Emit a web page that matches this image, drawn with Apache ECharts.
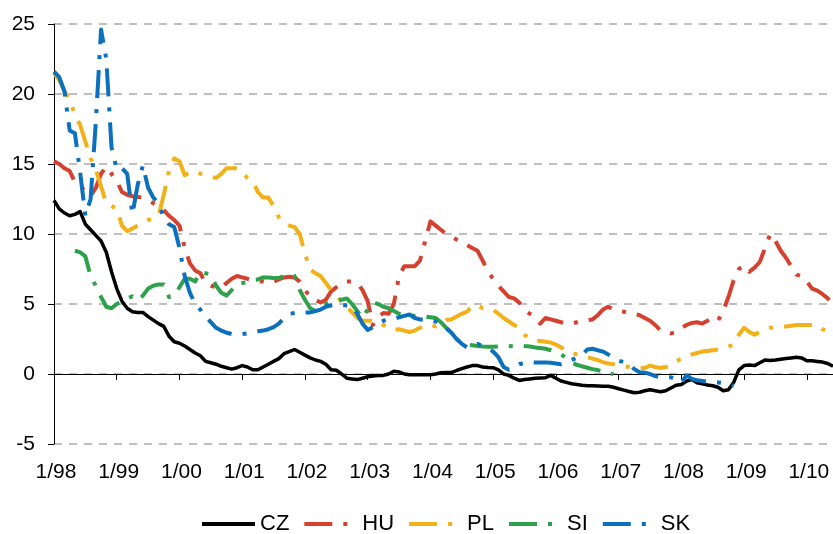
<!DOCTYPE html>
<html>
<head>
<meta charset="utf-8">
<script src="https://cdn.jsdelivr.net/npm/echarts@6/dist/echarts.min.js"></script>
<style>
html,body{margin:0;padding:0;background:#fff;}
#chart{width:833px;height:534px;}
</style>
</head>
<body>
<div id="chart"></div>
<script>
// Monthly categories from 1/98 to 6/10
var startYear = 1998, nMonths = 150;
var categories = [];
for (var k = 0; k < nMonths; k++) {
  var m = k % 12 + 1, y = (startYear + Math.floor(k / 12)) % 100;
  categories.push(m + '/' + (y < 10 ? '0' + y : '' + y));
}
var yTicks = [-5, 0, 5, 10, 15, 20, 25];

var CZ = [12.4,11.8,11.5,11.3,11.4,11.6,10.7,10.3,9.9,9.5,
 8.7,7.3,6.1,5.2,4.7,4.45,4.4,4.4,4.1,3.85,
 3.6,3.4,2.7,2.3,2.2,2.0,1.75,1.5,1.3,0.9,
 0.8,0.7,0.55,0.45,0.35,0.45,0.6,0.5,0.3,0.3,
 0.5,0.7,0.9,1.1,1.45,1.6,1.75,1.55,1.35,1.15,
 1.0,0.9,0.7,0.3,0.27,0.0,-0.3,-0.35,-0.4,-0.3,
 -0.2,-0.15,-0.1,-0.1,0.0,0.2,0.15,0.0,-0.05,-0.05,
 -0.05,-0.05,-0.05,0.0,0.09,0.1,0.1,0.25,0.38,0.5,
 0.6,0.6,0.5,0.47,0.45,0.3,0.0,-0.1,-0.3,-0.46,
 -0.4,-0.35,-0.3,-0.28,-0.27,-0.1,-0.3,-0.5,-0.6,-0.7,
 -0.75,-0.8,-0.84,-0.84,-0.85,-0.87,-0.88,-0.95,-1.05,-1.15,
 -1.25,-1.34,-1.3,-1.2,-1.12,-1.2,-1.27,-1.2,-1.0,-0.8,
 -0.75,-0.5,-0.4,-0.62,-0.7,-0.78,-0.84,-0.95,-1.2,-1.12,
 -0.6,0.3,0.6,0.65,0.6,0.8,1.0,0.97,1.0,1.05,
 1.1,1.15,1.2,1.15,0.95,0.95,0.9,0.85,0.75,0.55];

var HU = [15.2,15.0,14.7,14.5,13.7,13.5,13.0,12.7,13.3,14.3,
 14.8,14.3,13.8,13.0,12.8,12.7,12.65,12.6,12.4,12.2,
 12.0,11.7,11.3,11.0,10.6,9.0,7.9,7.4,7.2,6.5,
 6.3,6.2,6.15,6.5,6.8,7.0,6.9,6.8,6.7,6.65,
 6.6,6.5,6.6,6.75,6.9,6.95,6.9,6.6,6.0,5.5,
 5.3,5.1,5.3,5.9,6.2,6.5,6.6,6.6,6.5,6.0,
 5.2,3.5,4.1,4.35,4.3,5.0,7.0,7.7,7.7,7.7,
 8.1,9.5,10.9,10.6,10.3,10.0,9.8,9.6,9.4,9.2,
 9.0,8.8,8.1,7.3,6.8,6.3,5.9,5.5,5.4,5.1,
 4.6,4.3,4.1,3.6,4.0,3.9,3.8,3.7,3.6,3.6,
 3.7,3.8,3.85,3.9,4.2,4.6,4.8,4.6,4.5,4.45,
 4.4,4.3,4.2,4.0,3.8,3.5,3.1,3.0,2.9,3.0,
 3.3,3.5,3.65,3.7,3.6,3.8,4.0,3.8,4.5,5.5,
 6.7,7.5,7.75,7.3,7.6,8.0,9.0,10.0,9.5,8.8,
 8.3,7.7,7.1,7.0,6.6,6.1,5.95,5.7,5.4,4.9];

var PL = [21.5,21.0,20.2,19.6,18.5,17.8,16.6,15.4,14.6,13.4,
 12.2,12.0,11.8,10.6,10.2,10.4,10.6,10.8,11.0,11.1,
 11.3,12.8,14.5,15.4,15.2,14.2,14.4,14.5,14.3,14.2,
 14.1,14.0,14.3,14.7,14.7,14.7,14.4,14.0,13.75,13.0,
 12.6,12.6,12.0,11.2,10.8,10.6,10.5,10.0,8.6,7.45,
 7.2,7.0,6.5,6.0,5.6,5.2,4.8,4.4,4.0,3.8,
 3.8,3.8,3.75,3.5,3.25,3.15,3.2,3.1,3.0,3.1,
 3.3,3.5,3.5,3.4,3.6,3.85,3.9,4.1,4.3,4.45,
 4.9,4.85,4.7,4.65,4.6,4.3,4.0,3.75,3.5,3.3,
 2.8,2.5,2.4,2.35,2.3,2.25,2.1,1.9,1.65,1.5,
 1.4,1.3,1.2,1.1,1.0,0.85,0.75,0.7,0.6,0.55,
 0.5,0.45,0.43,0.43,0.6,0.5,0.43,0.5,0.6,0.9,
 1.1,1.3,1.4,1.5,1.6,1.65,1.7,1.75,1.8,1.95,
 2.1,2.8,3.3,3.0,2.8,3.0,3.2,3.3,3.35,3.4,
 3.4,3.45,3.5,3.5,3.5,3.5,3.5,3.2,3.05,3.3];

var SI = [null,null,null,null,8.8,8.7,8.4,7.0,6.3,5.5,
 4.8,4.7,5.0,5.2,5.4,5.55,5.25,5.6,6.1,6.3,
 6.4,6.4,5.5,5.6,6.2,6.8,6.8,6.6,7.3,7.2,
 7.1,6.3,5.8,5.6,6.0,6.45,6.5,6.55,6.7,6.75,
 6.9,6.9,6.85,6.85,7.0,7.1,7.0,6.0,5.3,4.7,
 4.5,4.7,5.0,5.1,5.2,5.3,5.4,5.0,4.5,4.0,
 4.6,5.1,5.0,4.8,4.7,4.5,4.3,4.25,4.2,4.15,
 4.15,4.1,4.05,4.0,3.7,3.3,2.9,2.5,2.2,2.1,
 2.05,2.0,1.97,1.95,1.95,1.97,1.97,1.98,2.0,2.05,
 2.0,1.97,1.9,1.85,1.8,1.7,1.55,1.4,1.15,0.8,
 0.66,0.55,0.45,0.35,0.28,0.15,0.08,0.0,null,null,
 null,null,null,null,null,null,null,null,null,null,
 null,null,null,null,null,null,null,null,null,null,
 null,null,null,null,null,null,null,null,null,null,
 null,null,null,null,null,null,null,null,null,null];

var SK = [21.6,21.2,20.2,17.4,17.2,14.4,11.3,12.5,18.0,24.6,
 22.5,16.2,14.6,14.7,14.3,11.4,13.5,14.9,13.3,12.6,
 12.2,11.2,10.7,10.5,9.0,7.0,5.8,5.0,4.6,4.1,
 3.7,3.3,3.1,2.95,2.85,2.85,2.85,2.9,3.0,3.05,
 3.1,3.2,3.35,3.6,4.0,4.3,4.35,4.4,4.4,4.4,
 4.5,4.6,4.8,4.9,4.95,4.95,4.9,4.85,4.3,3.6,
 3.15,3.35,3.6,3.8,3.9,3.95,4.05,4.15,4.25,4.0,
 3.9,3.9,3.85,3.75,3.6,3.3,2.95,2.5,2.15,1.9,
 2.0,2.15,2.0,1.8,1.6,1.2,0.5,0.3,0.5,0.7,
 0.8,0.83,0.83,0.83,0.83,0.8,0.75,0.7,0.8,1.0,
 1.15,1.35,1.75,1.8,1.7,1.6,1.4,1.15,0.95,0.85,
 0.7,0.35,0.12,0.1,0.0,-0.15,-0.24,-0.24,-0.24,-0.35,
 -0.6,-0.1,-0.35,-0.45,-0.5,-0.55,-0.58,-0.6,-0.65,-0.75,
 -0.82,null,null,null,null,null,null,null,null,null,
 null,null,null,null,null,null,null,null,null,null];

var seriesNames = ['CZ', 'HU', 'PL', 'SI', 'SK'];
var seriesData = [CZ, HU, PL, SI, SK];
var colors = ['#000000', '#D6412F', '#F2B118', '#2EA14B', '#0B70BD'];
var dashPattern = [28, 11, 4, 11];

var FONT = "'Liberation Sans', Arial, sans-serif";
var chart = echarts.init(document.getElementById('chart'), null, {renderer: 'canvas'});

var series = seriesNames.map(function (name, i) {
  return {
    name: name,
    type: 'line',
    xAxisIndex: 0,
    yAxisIndex: 0,
    data: seriesData[i],
    showSymbol: false,
    symbol: 'none',
    connectNulls: false,
    animation: false,
    lineStyle: {
      color: colors[i],
      width: i === 0 ? 3.5 : 4,
      type: i === 0 ? 'solid' : dashPattern,
      cap: 'butt',
      join: 'round'
    },
    itemStyle: {color: colors[i]},
    z: 3 + i
  };
});

chart.setOption({
  animation: false,
  backgroundColor: '#ffffff',
  textStyle: {fontFamily: FONT, color: '#000'},
  grid: {left: 54, right: 0, top: 24, bottom: 90, containLabel: false},
  legend: {
    data: seriesNames,
    left: 195,
    top: 508,
    itemWidth: 53,
    itemHeight: 14,
    itemGap: 13,
    itemStyle: {opacity: 0},
    lineStyle: {width: 4},
    textStyle: {fontFamily: FONT, fontSize: 22, color: '#000'}
  },
  xAxis: [{
    type: 'category',
    data: categories,
    boundaryGap: false,
    position: 'bottom',
    axisLine: {onZero: true, lineStyle: {color: '#000', width: 1}},
    axisTick: {show: true, interval: 11, length: 6, lineStyle: {color: '#000', width: 1}},
    axisLabel: {show: false},
    splitLine: {show: false}
  }, {
    type: 'category',
    data: categories,
    boundaryGap: false,
    position: 'bottom',
    axisLine: {show: false, onZero: false},
    axisTick: {show: false},
    axisLabel: {
      show: true, interval: 11, margin: 18,
      fontFamily: FONT, fontSize: 21, color: '#000',
      padding: [0, 0, 0, 4]
    },
    splitLine: {show: false}
  }],
  yAxis: [{
    type: 'value',
    min: yTicks[0],
    max: yTicks[yTicks.length - 1],
    interval: 5,
    axisLine: {show: true, lineStyle: {color: '#000', width: 1}},
    axisTick: {show: true, length: 6, lineStyle: {color: '#000'}},
    axisLabel: {margin: 19, fontFamily: FONT, fontSize: 21, color: '#000'},
    splitLine: {show: true, lineStyle: {color: '#ABABAB', width: 1.5, type: [8, 7]}}
  }],
  series: series
});
</script>
</body>
</html>
